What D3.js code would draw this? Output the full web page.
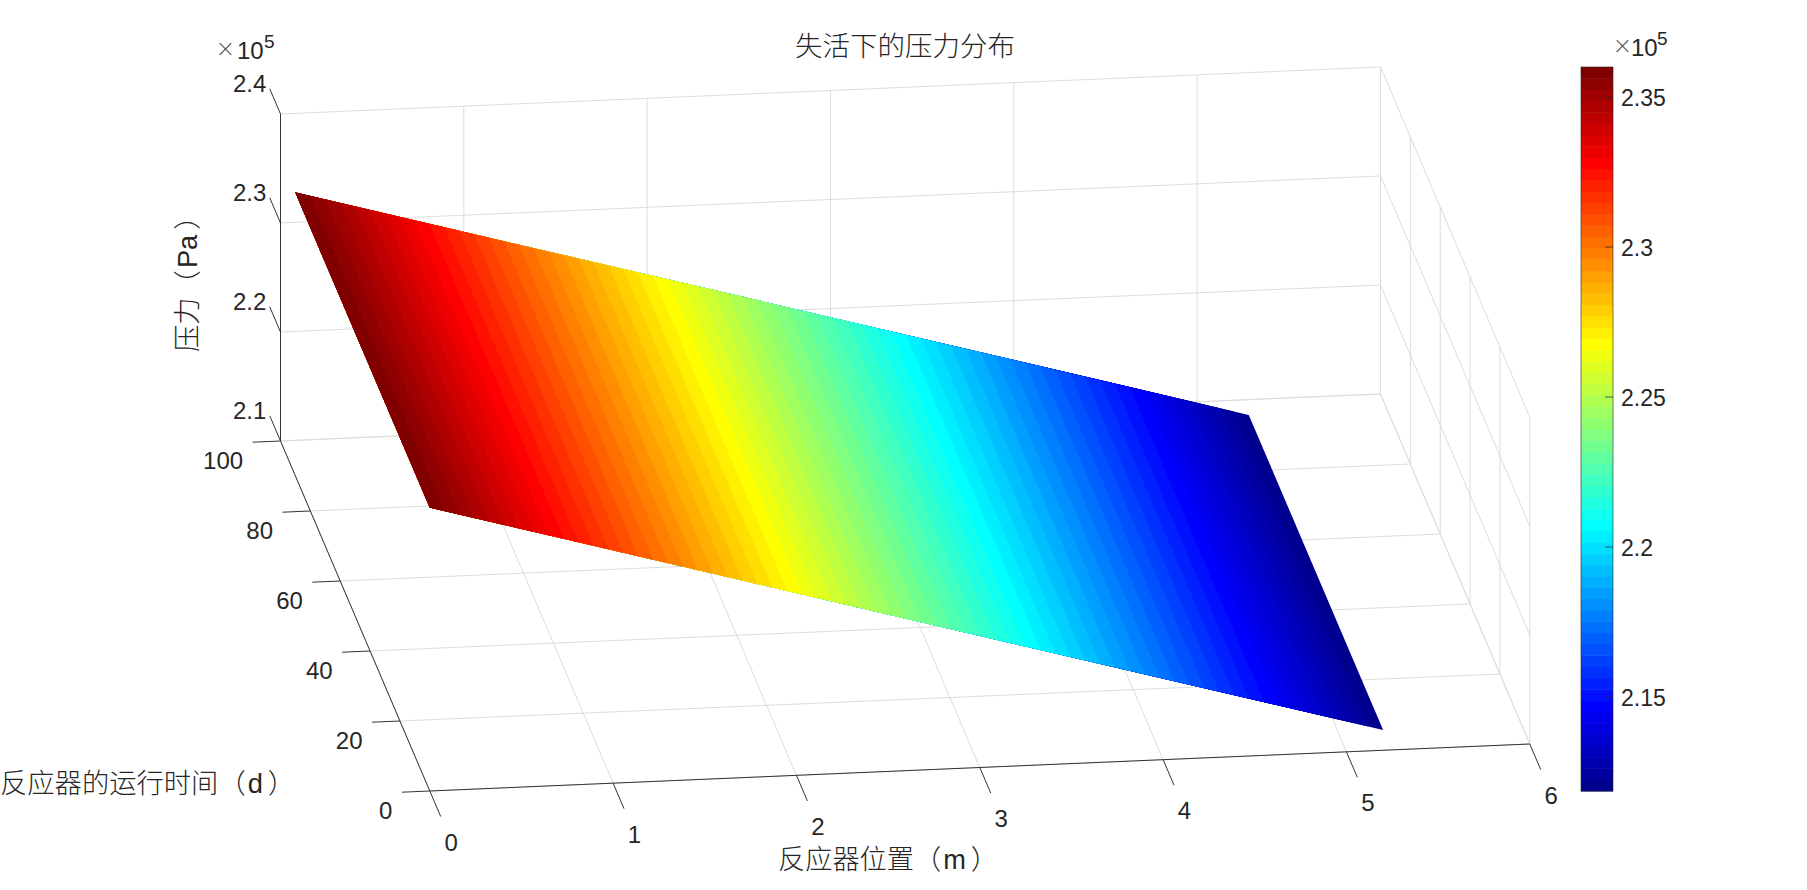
<!DOCTYPE html>
<html>
<head>
<meta charset="utf-8">
<script src="https://d3js.org/d3.v7.min.js"></script>
<style>
body { margin: 0; background: #fff; overflow: hidden; }
text { font-family: "Liberation Sans", "Noto Sans CJK SC", sans-serif; fill: #262626; }
.cjk { font-weight: 300; text-spacing-trim: space-all; }
.times { font-family: Lato, sans-serif; font-weight: 300; fill: #555; }
</style>
</head>
<body>
<div id="chart"></div>
<script>
var svgWidth = 1807;
var svgHeight = 890;

// axis ticks
var xTicks = [0, 1, 2, 3, 4, 5, 6];
var yTicks = [0, 20, 40, 60, 80, 100];
var zTicks = [2.1, 2.2, 2.3, 2.4];
var colorTicks = [2.15, 2.2, 2.25, 2.3, 2.35];

// surface, pressure in 1e5 Pa read along the reactor
var positions = [0, 1, 2, 3, 4, 5, 5.2];
var pressures = [2.36, 2.3136, 2.2672, 2.2208, 2.1744, 2.128, 2.1187];
var times = [0, 90];
var colorRange = [2.1187, 2.36];
var levels = 64;

var title = "失活下的压力分布";
var xLabel = ["反应器位置", "（", "m", "）"];
var yLabel = ["反应器的运行时间", "（", "d", "）"];
var zLabel = ["压力", "（", "Pa", "）"];

var svg = d3.select("#chart")
    .append("svg")
    .attr("width", svgWidth)
    .attr("height", svgHeight);

// orthographic view, each data axis adds its own screen offset
var xToPx = d3.scaleLinear().domain([0, 6]).range([429.8, 1529.8]);
var xToPy = d3.scaleLinear().domain([0, 6]).range([0, -47]);
var yToPx = d3.scaleLinear().domain([0, 100]).range([0, -149.3]);
var yToPy = d3.scaleLinear().domain([0, 100]).range([0, -350]);
var zToPy = d3.scaleLinear().domain([2.1, 2.4]).range([791, 464]);

function project(x, y, z) {
    return [xToPx(x) + yToPx(y), zToPy(z) + xToPy(x) + yToPy(y)];
}

// MATLAB jet
function jet(i) {
    var t = (i + 1) / levels;
    var c = v => Math.round(255 * Math.max(0, Math.min(1, v)));
    var r = c(Math.min(4 * t - 1.5, -4 * t + 4.5));
    var g = c(Math.min(4 * t - 0.5, -4 * t + 3.5));
    var b = c(Math.min(4 * t + 0.5, -4 * t + 2.5));
    return `rgb(${r},${g},${b})`;
}

var levelIndex = d3.range(levels);
var levelScale = d3.scaleLinear().domain([0, levels]).range(colorRange);
var pressureToX = d3.scaleLinear().domain(pressures).range(positions);

var line = d3.line();
var gridGroup = svg.append("g")
    .attr("fill", "none")
    .attr("stroke", "#dcdcdc")
    .attr("stroke-width", 1);

function addLine(group, a, b) {
    group.append("path").attr("d", line([a, b]));
}

// floor
xTicks.forEach(x => addLine(gridGroup, project(x, 0, 2.1), project(x, 100, 2.1)));
yTicks.forEach(y => addLine(gridGroup, project(0, y, 2.1), project(6, y, 2.1)));
// back wall
xTicks.forEach(x => addLine(gridGroup, project(x, 100, 2.1), project(x, 100, 2.4)));
zTicks.forEach(z => addLine(gridGroup, project(0, 100, z), project(6, 100, z)));
// right wall
yTicks.forEach(y => addLine(gridGroup, project(6, y, 2.1), project(6, y, 2.4)));
zTicks.forEach(z => addLine(gridGroup, project(6, 0, z), project(6, 100, z)));

// surface bands, each later one sits on top of the last so no seams show
svg.append("g").selectAll("path")
    .data(levelIndex)
    .enter()
    .append("path")
    .attr("fill", d => jet(d))
    .attr("d", function(d) {
        var p0 = Math.max(levelScale(d), colorRange[0]);
        var x0 = Math.min(pressureToX(p0), 5.2);
        return line([
            project(0, times[0], colorRange[1]),
            project(0, times[1], colorRange[1]),
            project(x0, times[1], p0),
            project(x0, times[0], p0)
        ]) + "Z";
    });

// axes
var axisGroup = svg.append("g")
    .attr("fill", "none")
    .attr("stroke", "#333333")
    .attr("stroke-width", 1);

addLine(axisGroup, project(0, 0, 2.1), project(6, 0, 2.1));
addLine(axisGroup, project(0, 0, 2.1), project(0, 100, 2.1));
addLine(axisGroup, project(0, 100, 2.1), project(0, 100, 2.4));

var tickFont = 24;

xTicks.forEach(function(x) {
    var end = project(x, -7.3, 2.1);
    addLine(axisGroup, project(x, 0, 2.1), end);
    svg.append("text")
        .attr("x", end[0] + 10.5)
        .attr("y", end[1] + 34)
        .attr("text-anchor", "middle")
        .attr("font-size", tickFont)
        .text(x);
});

yTicks.forEach(function(y) {
    var end = project(-0.152, y, 2.1);
    addLine(axisGroup, project(0, y, 2.1), end);
    svg.append("text")
        .attr("x", end[0] - 9.5)
        .attr("y", end[1] + 26.5)
        .attr("text-anchor", "end")
        .attr("font-size", tickFont)
        .text(y);
});

zTicks.forEach(function(z) {
    var end = project(0, 107.2, z);
    addLine(axisGroup, project(0, 100, z), end);
    svg.append("text")
        .attr("x", end[0] - 3.5)
        .attr("y", end[1] + 3)
        .attr("text-anchor", "end")
        .attr("font-size", tickFont)
        .text(z.toFixed(1));
});

function addExponent(x, x10, x5, y) {
    var t = svg.append("text")
        .attr("y", y)
        .attr("font-size", tickFont);
    t.append("tspan").attr("class", "times").attr("x", x).attr("font-size", 29).text("×");
    t.append("tspan").attr("x", x10).text("10");
    t.append("tspan").attr("x", x5).attr("dy", -11).attr("font-size", 19).text("5");
}
addExponent(217, 237, 264, 59);
addExponent(1614, 1631, 1657, 56);

// colorbar
var barX = 1581;
var barWidth = 32;
var barScale = d3.scaleLinear().domain(colorRange).range([791, 67]);

svg.append("g").selectAll("rect")
    .data(levelIndex)
    .enter()
    .append("rect")
    .attr("x", barX)
    .attr("width", barWidth)
    .attr("y", d => barScale(levelScale(d + 1)))
    .attr("height", d => barScale(levelScale(d)) - barScale(levelScale(d + 1)) + 0.5)
    .attr("fill", d => jet(d));

svg.append("rect")
    .attr("x", barX)
    .attr("y", 67)
    .attr("width", barWidth)
    .attr("height", 724)
    .attr("fill", "none")
    .attr("stroke", "#262626")
    .attr("stroke-opacity", 0.6)
    .attr("stroke-width", 1);

colorTicks.forEach(function(v) {
    var y = barScale(v);
    svg.append("path")
        .attr("d", line([[barX + barWidth - 8, y], [barX + barWidth, y]]))
        .attr("stroke", "#262626")
        .attr("stroke-opacity", 0.7)
        .attr("stroke-width", 1);
    svg.append("text")
        .attr("x", 1621)
        .attr("y", y + 9)
        .attr("font-size", 23)
        .text(v);
});

// titles, the unit in brackets sits a little wider than the font sets it
function addLabel(parts, x, y, anchor, size, rotate) {
    var t = svg.append("text")
        .attr("class", "cjk")
        .attr("transform", `translate(${x}, ${y})` + (rotate ? ` rotate(${rotate})` : ""))
        .attr("text-anchor", anchor)
        .attr("dominant-baseline", "central")
        .attr("font-size", size);
    parts.forEach(function(part, i) {
        t.append("tspan")
            .attr("dx", i == 2 ? 2 : i == 3 ? 5 : 0)
            .attr("font-weight", i == 2 ? 400 : 300)
            .text(part);
    });
}
addLabel([title], 905, 46, "middle", 27.5);
addLabel(xLabel, 778, 859, "start", 27.2);
addLabel(yLabel, 0, 783, "start", 27.3);
addLabel(zLabel, 187, 352, "start", 27.3, -90);
</script>
</body>
</html>
